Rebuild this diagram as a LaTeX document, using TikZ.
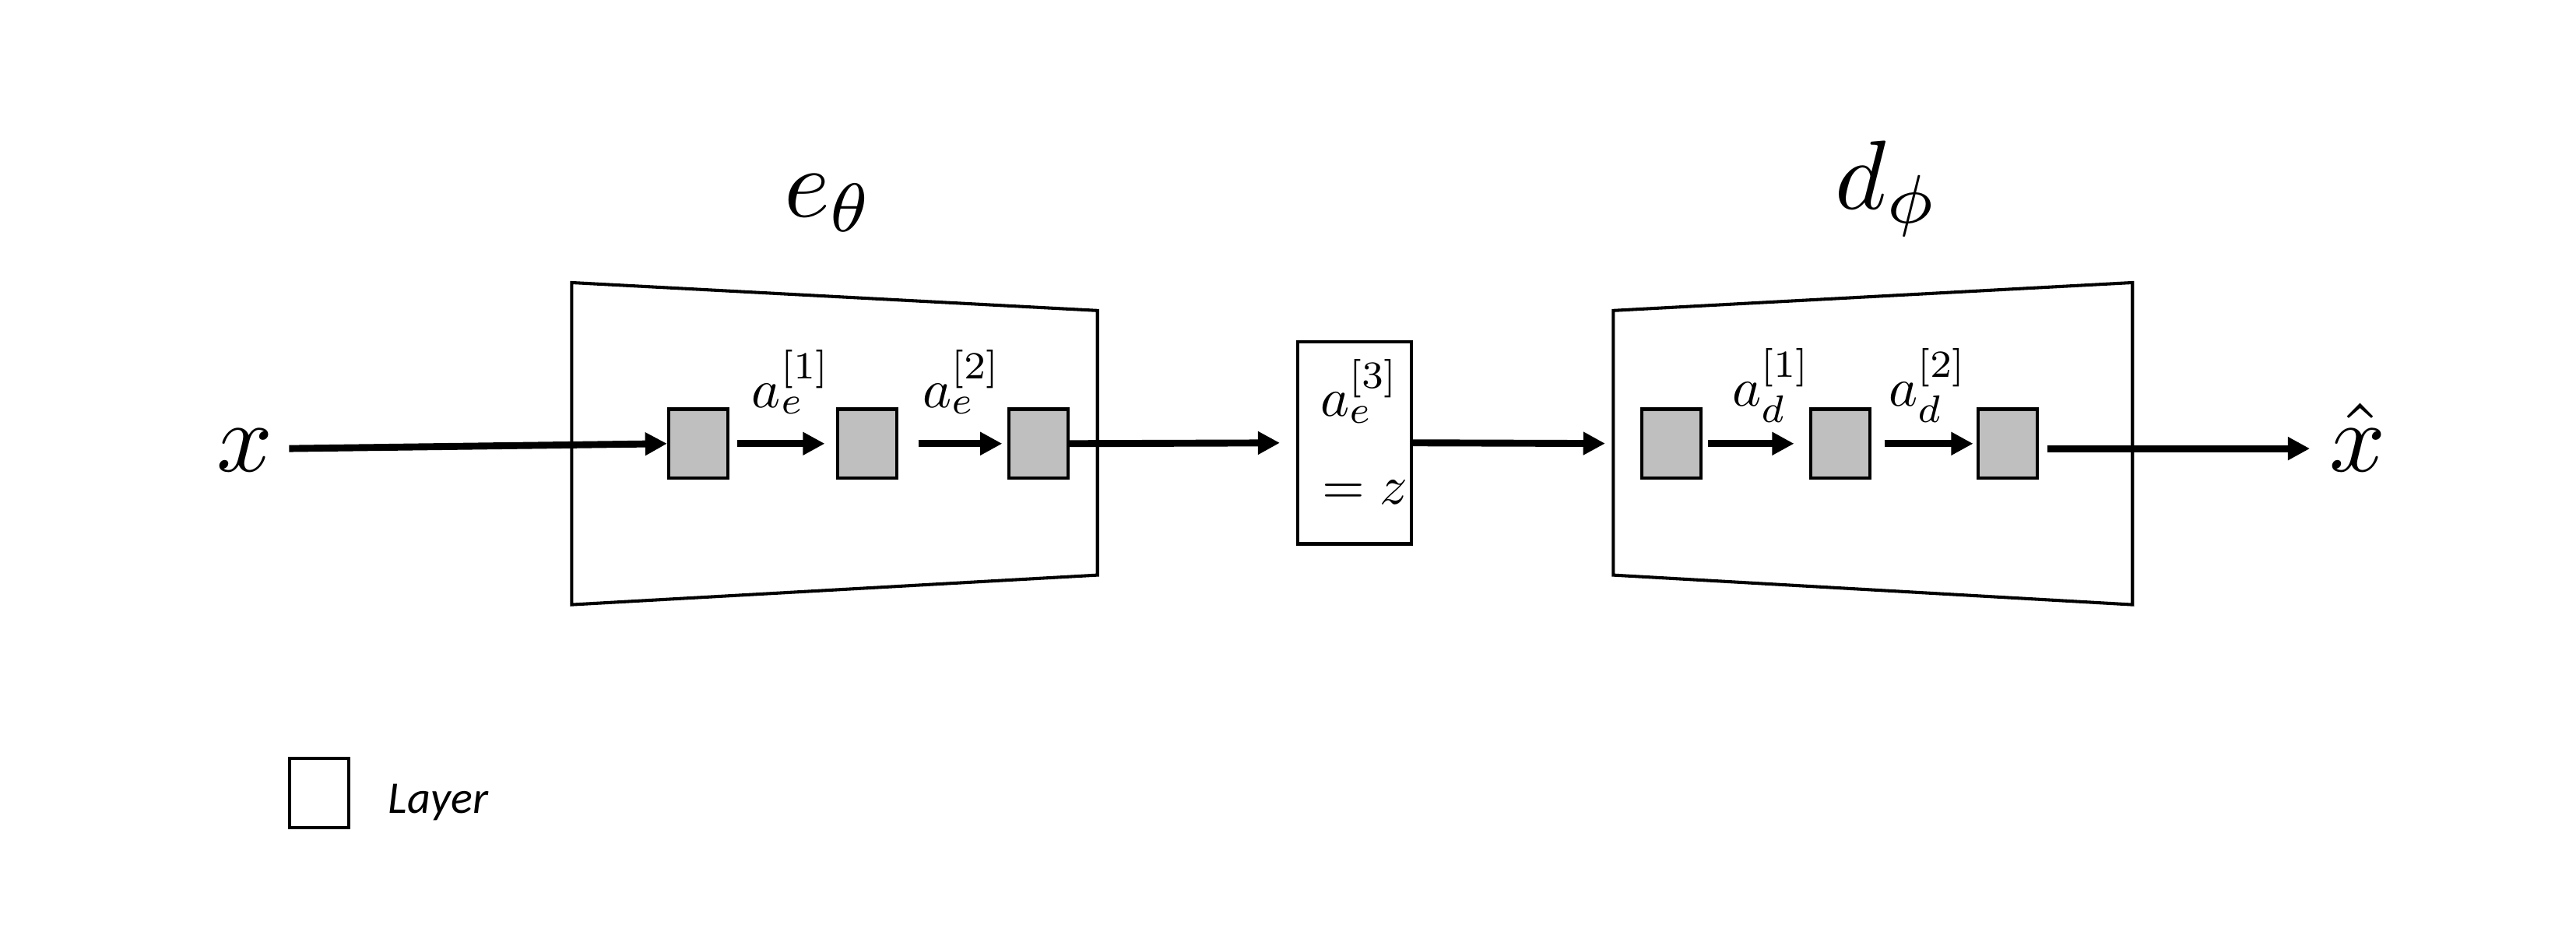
\documentclass[tikz,border=0pt]{standalone}
\usepackage{fontspec}
\newfontfamily\layerfont{Carlito}
\usetikzlibrary{arrows.meta}
\definecolor{boxgray}{HTML}{BFBFBF}
\begin{document}
\begin{tikzpicture}[x=0.02cm,y=-0.02cm,
  layerbox/.style={draw,line width=1.1pt,fill=boxgray,minimum width=0.72cm,minimum height=0.84cm,inner sep=0pt},
  legendbox/.style={draw,line width=1.1pt,fill=white,minimum width=0.72cm,minimum height=0.84cm,inner sep=0pt},
  trap/.style={draw,line width=1.1pt,line join=miter},
  flow/.style={line width=2.4pt,-{Triangle[length=7.6pt,width=7.6pt]}},
  biglabel/.style={inner sep=0pt,anchor=base west,font=\fontsize{10}{12}\selectfont,scale=3.4},
  actlabel/.style={inner sep=0pt,anchor=base west,font=\fontsize{10}{12}\selectfont,scale=1.9},
]
\useasboundingbox (0,0) rectangle (1568,567);

% trapezoids
\draw[trap] (348,172) -- (668,189) -- (668,350) -- (348,368) -- cycle;
\draw[trap] (982,189) -- (1298,172) -- (1298,368) -- (982,350) -- cycle;

% layers
\node[layerbox] (enc1) at (425,270) {};
\node[layerbox] (enc2) at (528,270) {};
\node[layerbox] (enc3) at (632,270) {};
\node[layerbox] (dec1) at (1017.5,270) {};
\node[layerbox] (dec2) at (1120,270) {};
\node[layerbox] (dec3) at (1222,270) {};

% latent box
\node[draw,line width=1.1pt,minimum width=1.38cm,minimum height=2.46cm,inner sep=0pt] (zbox) at (824.5,269.5) {};
\node[actlabel] (zlabA) at (803,253.5) {$a_e^{[3]}$};
\node[actlabel] (zlabB) at (804,307) {$=z$};

% titles
\node[biglabel] (etitle) at (476,131.8) {$e_\theta$};
\node[biglabel] (dtitle) at (1116,127) {$d_\phi$};

% input / output
\node[biglabel] (xin) at (131,286.7) {$x$};
\node[biglabel] (xout) at (1417,286.7) {$\hat{x}$};
\coordinate (xstart) at (176,273);
\coordinate (ostart) at (1246,273);
\coordinate (oend) at (1406,273);

% activation labels
\node[actlabel] (ae1) at (457,248) {$a_e^{[1]}$};
\node[actlabel] (ae2) at (561,248) {$a_e^{[2]}$};
\node[actlabel] (ad1) at (1054,247) {$a_d^{[1]}$};
\node[actlabel] (ad2) at (1149,247) {$a_d^{[2]}$};

% connectors
\draw[flow] (xstart) -- (enc1.west);
\draw[flow,shorten <=0.1cm,shorten >=0.14cm] (enc1.east) -- (enc2.west);
\draw[flow,shorten <=0.24cm,shorten >=0.06cm] (enc2.east) -- (enc3.west);
\draw[flow,shorten >=0.2cm] (enc3.east) -- (zbox.west);
\draw[flow,shorten >=0.43cm] (zbox.east) -- (dec1.west);
\draw[flow,shorten <=0.06cm,shorten >=0.18cm] (dec1.east) -- (dec2.west);
\draw[flow,shorten <=0.16cm,shorten >=0.04cm] (dec2.east) -- (dec3.west);
\draw[flow] (ostart) -- (oend);

% legend
\node[legendbox] (leg) at (194.2,482.5) {};
\node[inner sep=0pt,anchor=base west,font=\layerfont\itshape\fontsize{15.7}{19}\selectfont] (legtext) at (236,495) {Layer};
\end{tikzpicture}
\end{document}
